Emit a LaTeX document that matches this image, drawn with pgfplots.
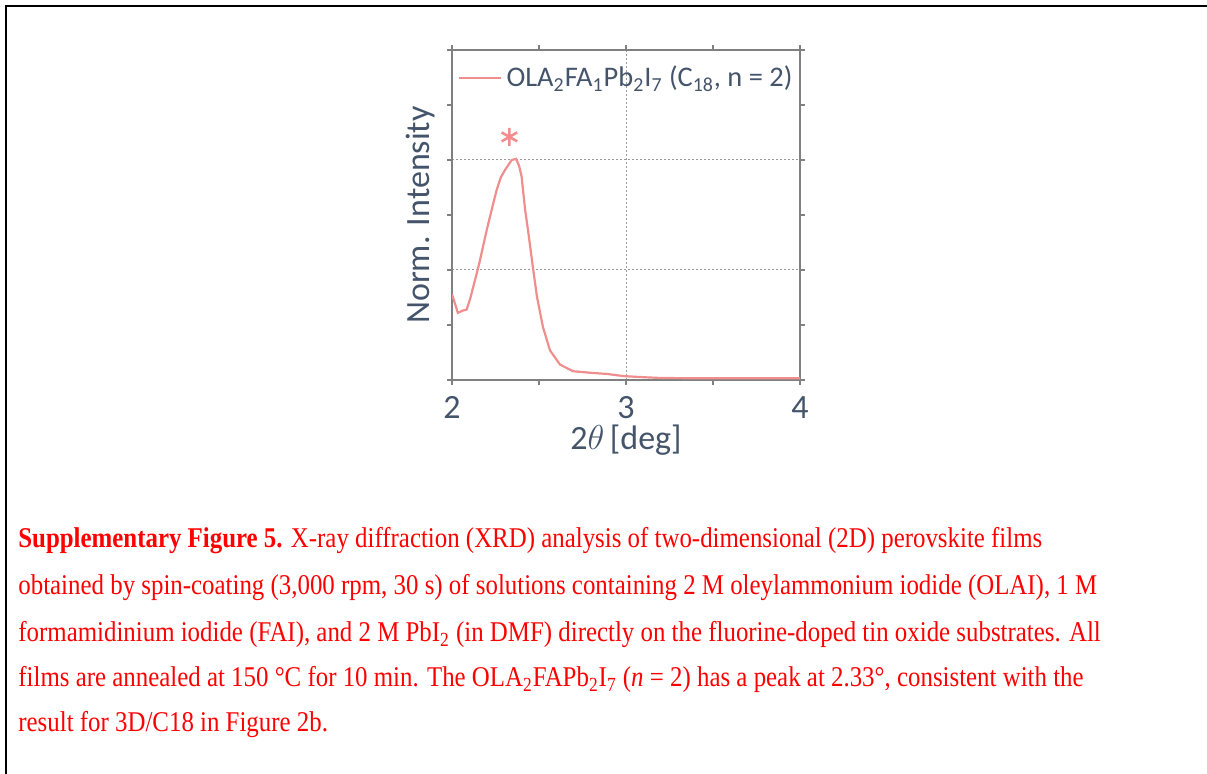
\documentclass[border=0pt]{standalone}
\usepackage{pgfplots}
\pgfplotsset{compat=1.18}
\usepackage{fontspec}
\setmainfont{Carlito}
\newfontfamily\capfont[FakeStretch=0.87]{Liberation Serif}
\definecolor{txtcol}{RGB}{68,84,106}
\definecolor{axcol}{RGB}{128,128,128}
\definecolor{curvecol}{RGB}{240,142,142}
\definecolor{capred}{RGB}{255,0,0}
\begin{document}
\begin{tikzpicture}
\path[use as bounding box] (0pt,0pt) rectangle (603.5pt,-387pt);
\draw[line width=1pt,black] (3pt,-387pt) -- (3pt,-3pt) -- (603.5pt,-3pt);
\begin{axis}[
  at={(226pt,-190pt)}, anchor=south west,
  scale only axis, width=174pt, height=165pt,
  xmin=2, xmax=4, ymin=0, ymax=3,
  xtick={2,3,4}, minor xtick={2.5,3.5},
  ytick={0,1,2,3}, minor ytick={0.5,1.5,2.5},
  yticklabels={},
  tick align=outside,
  major tick length=2.5pt, minor tick length=2.5pt,
  every tick/.style={axcol, line width=0.6pt},
  axis line style={axcol, line width=0.6pt},
  grid=major,
  major grid style={axcol!80, line width=0.5pt, dash pattern=on 1pt off 1pt},
  /pgf/number format/assume math mode=true,
  tick label style={font=\fontsize{17}{20}\selectfont, text=txtcol},
  xticklabel style={anchor=base, yshift=-17pt},
  xlabel={2$\theta$\,[deg]},
  ylabel={Norm. Intensity},
  label style={font=\fontsize{17}{20}\selectfont, text=txtcol},
  xlabel style={at={(axis description cs:0.5,-0.212)}, anchor=base},
  ylabel style={at={(axis description cs:-0.066,0.5)}, anchor=base, rotate=0},
  legend style={draw=none, fill=none, at={(0.017,0.915)}, anchor=west,
    font=\fontsize{14.2}{17}\selectfont, text=txtcol, inner sep=0pt},
  legend cell align=left,
  legend image code/.code={\draw[#1] (0pt,0pt) -- (21pt,0pt);},
]
\addplot[curvecol, line width=1.1pt] coordinates {
(2.000,0.78) (2.034,0.61) (2.060,0.63) (2.084,0.64) (2.103,0.73) (2.144,0.98)
(2.161,1.09) (2.199,1.36) (2.230,1.56) (2.257,1.73) (2.280,1.84) (2.305,1.91)
(2.343,2.00) (2.368,2.01) (2.385,1.95) (2.400,1.85) (2.420,1.55) (2.437,1.36)
(2.467,1.00) (2.489,0.75) (2.523,0.48) (2.563,0.27) (2.621,0.14) (2.695,0.08)
(2.800,0.065) (2.891,0.055) (2.983,0.036) (3.080,0.027) (3.200,0.018) (3.500,0.015)
(3.800,0.015) (4.000,0.015)
};
\addlegendentry{OLA\textsubscript{2}FA\textsubscript{1}Pb\textsubscript{2}I\textsubscript{7} (C\textsubscript{18}, n = 2)}
\addplot[only marks, mark=asterisk, mark size=4.5pt, curvecol, line width=1.3pt, forget plot]
  coordinates {(2.33,2.21)};
\end{axis}
\begin{scope}[capred]
\capfont\fontsize{14.3}{17}\selectfont
\node[anchor=base west, inner sep=0pt, text=capred] at (9pt,-274pt) {\textbf{Supplementary Figure 5.} X-ray diffraction (XRD) analysis of two-dimensional (2D) perovskite films};
\node[anchor=base west, inner sep=0pt, text=capred] at (9pt,-297.5pt) {obtained by spin-coating (3,000 rpm, 30 s) of solutions containing 2 M oleylammonium iodide (OLAI), 1 M};
\node[anchor=base west, inner sep=0pt, text=capred] at (9pt,-321pt) {formamidinium iodide (FAI), and 2 M PbI\textsubscript{2} (in DMF) directly on the fluorine-doped tin oxide substrates. All};
\node[anchor=base west, inner sep=0pt, text=capred] at (9pt,-343.5pt) {films are annealed at 150 °C for 10 min. The OLA\textsubscript{2}FAPb\textsubscript{2}I\textsubscript{7} (\textit{n} = 2) has a peak at 2.33°, consistent with the};
\node[anchor=base west, inner sep=0pt, text=capred] at (9pt,-366pt) {result for 3D/C18 in Figure 2b.};
\end{scope}
\end{tikzpicture}
\end{document}
